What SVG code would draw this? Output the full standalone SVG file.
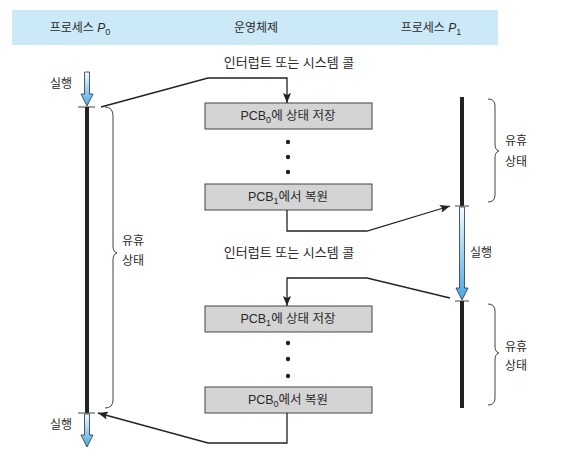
<svg xmlns="http://www.w3.org/2000/svg" width="563" height="466" viewBox="0 0 563 466">
<style>
text{font-family:"Liberation Sans","Noto Sans CJK KR",sans-serif;font-size:12px;fill:#2a2a2a}
.c{text-anchor:middle}
.lbl{font-size:13px}
.bt{font-size:12.5px}
.box{fill:#d4d4d4;stroke:#444;stroke-width:1}
.con{fill:none;stroke:#222;stroke-width:1.3}
.bar{stroke:#222;stroke-width:4}
.tick{stroke:#444;stroke-width:1}
.brace{fill:none;stroke:#444;stroke-width:1}
.run{fill:url(#g);stroke:#234;stroke-width:0.8}
.dot{fill:#222}
</style>
<defs>
<linearGradient id="g" x1="0" y1="0" x2="0" y2="1">
<stop offset="0" stop-color="#f4faff"/>
<stop offset="1" stop-color="#4aa8e2"/>
</linearGradient>
<marker id="ah" markerUnits="userSpaceOnUse" markerWidth="10" markerHeight="8" refX="10" refY="4" orient="auto">
<path d="M0,0 L10,4 L0,8 L2,4 z" fill="#222"/>
</marker>
</defs>
<rect x="12" y="10" width="486" height="35" fill="#cce9f8"/>
<text class="c" x="80" y="32">프로세스 <tspan font-style="italic">P</tspan><tspan font-size="9" dy="3">0</tspan></text>
<text class="c" x="256" y="32">운영체제</text>
<text class="c" x="431" y="32">프로세스 <tspan font-style="italic">P</tspan><tspan font-size="9" dy="3">1</tspan></text>

<g id="p0">
<path class="run" d="M84.5,72 L89.5,72 L89.5,94 L93,94 L87,106 L81,94 L84.5,94 z"/>
<line class="tick" x1="78" y1="107" x2="95" y2="107"/>
<line class="bar" x1="87" y1="107" x2="87" y2="413"/>
<line class="tick" x1="78" y1="413" x2="95" y2="413"/>
<path class="run" d="M84.5,414 L89.5,414 L89.5,435 L93,435 L87,447 L81,435 L84.5,435 z"/>
<text x="50" y="88">실행</text>
<text x="50" y="429">실행</text>
<path class="brace" d="M105,107 Q113,107 113,116 L113,246 Q113,252 117,253 Q113,254 113,260 L113,400 Q113,408 105,408"/>
<text x="122" y="245">유휴</text>
<text x="122" y="265">상태</text>
</g>

<g id="p1">
<line class="bar" x1="462" y1="97" x2="462" y2="206"/>
<line class="tick" x1="455" y1="206" x2="469" y2="206"/>
<path class="run" d="M459.5,207 L464.5,207 L464.5,288 L468,288 L462,300 L456,288 L459.5,288 z"/>
<line class="tick" x1="455" y1="301" x2="469" y2="301"/>
<line class="bar" x1="462" y1="301" x2="462" y2="408"/>
<text x="470" y="257">실행</text>
<path class="brace" d="M488,99 Q495,99 495,106 L495,144 Q495,150 499,151 Q495,152 495,158 L495,195 Q495,202 488,202"/>
<text x="505" y="145">유휴</text>
<text x="505" y="166">상태</text>
<path class="brace" d="M488,304 Q495,304 495,311 L495,346 Q495,352 499,353 Q495,354 495,360 L495,398 Q495,405 488,405"/>
<text x="505" y="351">유휴</text>
<text x="505" y="370">상태</text>
</g>

<g id="os">
<text class="c lbl" x="289" y="67">인터럽트 또는 시스템 콜</text>
<text class="c lbl" x="289" y="257">인터럽트 또는 시스템 콜</text>
<g id="box1"><rect class="box" x="205" y="103" width="167" height="26"/>
<text class="c bt" x="288" y="120">PCB<tspan font-size="9" dy="3">0</tspan><tspan dy="-3">에 상태 저장</tspan></text></g>
<circle class="dot" cx="288" cy="142" r="2.2"/><circle class="dot" cx="288" cy="157" r="2.2"/><circle class="dot" cx="288" cy="172" r="2.2"/>
<g id="box2"><rect class="box" x="205" y="184" width="167" height="26"/>
<text class="c bt" x="288" y="201">PCB<tspan font-size="9" dy="3">1</tspan><tspan dy="-3">에서 복원</tspan></text></g>
<g id="box3"><rect class="box" x="205" y="306" width="167" height="26"/>
<text class="c bt" x="288" y="323">PCB<tspan font-size="9" dy="3">1</tspan><tspan dy="-3">에 상태 저장</tspan></text></g>
<circle class="dot" cx="288" cy="343" r="2.2"/><circle class="dot" cx="288" cy="359" r="2.2"/><circle class="dot" cx="288" cy="376" r="2.2"/>
<g id="box4"><rect class="box" x="205" y="387" width="167" height="26"/>
<text class="c bt" x="288" y="404">PCB<tspan font-size="9" dy="3">0</tspan><tspan dy="-3">에서 복원</tspan></text></g>
</g>

<g id="connectors">
<polyline class="con" points="101,107 208,78 287,78 287,103" marker-end="url(#ah)"/>
<polyline class="con" points="287,210 287,231 367,231 450,206" marker-end="url(#ah)"/>
<polyline class="con" points="450,298 367,278 287,278 287,306" marker-end="url(#ah)"/>
<polyline class="con" points="287,413 287,443 208,443 98,413" marker-end="url(#ah)"/>
</g>
</svg>
